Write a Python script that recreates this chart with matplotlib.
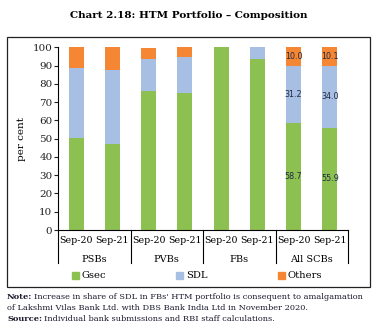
import matplotlib
matplotlib.use("Agg")
import matplotlib.pyplot as plt
import matplotlib.patches as mpatches
from matplotlib.lines import Line2D
import numpy as np

groups = ["PSBs", "PVBs", "FBs", "All SCBs"]
periods = ["Sep-20", "Sep-21"]
gsec = [50.5, 47.1, 76.1, 75.0, 100.0, 93.6, 58.7, 55.9]
sdl = [38.0, 40.6, 17.5, 19.9, 0.0, 6.4, 31.2, 34.0]
others = [11.5, 12.3, 6.2, 5.1, 0.0, 0.0, 10.0, 10.1]
labelled = [6, 7]

c_g = "#8CC152"
c_s = "#A7BFE2"
c_o = "#F58634"

plt.rcParams['font.family'] = ['DejaVu Serif']
fig = plt.figure(figsize=(3.78, 3.34), dpi=100)
W, H = 378, 334
ax = fig.add_axes([58 / W, 1 - 230 / H, 290 / W, (230 - 47.3) / H])

x = np.arange(len(gsec))
bw = 0.42
ax.bar(x, gsec, bw, color=c_g)
ax.bar(x, sdl, bw, bottom=gsec, color=c_s)
bot2 = [a + b for a, b in zip(gsec, sdl)]
ax.bar(x, others, bw, bottom=bot2, color=c_o)

for i in labelled:
    for val, b in ((gsec[i], 0), (sdl[i], gsec[i]), (others[i], bot2[i])):
        ax.text(x[i], b + val / 2, f"{val:.1f}", ha="center", va="center",
                fontsize=5.8, color="#1F2A44", family="DejaVu Sans")

ax.set_xlim(-0.5, len(gsec) - 0.5)
ax.set_ylim(0, 100)
ax.set_yticks(range(0, 101, 10))
ax.tick_params(axis='y', labelsize=7.5, length=3, width=0.8, pad=1, colors="#222222")
ax.set_xticks(x)
ax.set_xticklabels(periods * len(groups), fontsize=6.8)
ax.tick_params(axis='x', length=0, pad=4)
for s in ["top", "right"]:
    ax.spines[s].set_visible(False)
ax.spines["left"].set_linewidth(0.8)
ax.spines["bottom"].set_linewidth(0.8)
ax.set_ylabel("per cent", fontsize=7.5, labelpad=5)

# group separators and labels
trans = ax.get_xaxis_transform()
sep_bottom = -(263 - 230) / (230 - 47.3)
for k in range(len(groups) + 1):
    xs = k * 2 - 0.5
    ax.add_line(Line2D([xs, xs], [0, sep_bottom], transform=trans, color="black",
                       lw=0.8, clip_on=False))
for k, g in enumerate(groups):
    ax.text(k * 2 + 0.5, -(259 - 230) / (230 - 47.3), g, transform=trans,
            ha="center", va="center", fontsize=7)

# legend
handles = [mpatches.Patch(color=c_g, label="Gsec"),
           mpatches.Patch(color=c_s, label="SDL"),
           mpatches.Patch(color=c_o, label="Others")]
fig.legend(handles=handles, loc="center", bbox_to_anchor=(197 / W, 1 - 276 / H),
           ncol=3, frameon=False, fontsize=7.2, handlelength=0.7, handleheight=0.7,
           handletextpad=0.3, columnspacing=7.0, borderpad=0)

# frame
fig.add_artist(mpatches.Rectangle((7 / W, 1 - 286.5 / H), (370 - 7) / W, (286.5 - 37) / H,
                                  transform=fig.transFigure, fill=False,
                                  edgecolor="#222222", lw=0.9))

fig.text(0.5, 1 - 16 / H, "Chart 2.18: HTM Portfolio \u2013 Composition", ha="center",
         va="center", fontsize=7.5, fontweight="bold")

nfs = 5.95
ncol = "#1a1a2e"
fig.canvas.draw()
renderer = fig.canvas.get_renderer()


def bold_lead(y, lead, rest):
    t = fig.text(7 / W, 1 - y / H, lead, fontsize=nfs, fontweight="bold",
                 va="center", color=ncol)
    bb = t.get_window_extent(renderer=renderer)
    fig.text((bb.x1 + 2) / W, 1 - y / H, rest, fontsize=nfs, va="center", color=ncol)


bold_lead(297, "Note:",
          "Increase in share of SDL in FBs' HTM portfolio is consequent to amalgamation")
fig.text(7 / W, 1 - 308 / H,
         "of Lakshmi Vilas Bank Ltd. with DBS Bank India Ltd in November 2020.",
         fontsize=nfs, va="center", color=ncol)
bold_lead(319, "Source:", "Individual bank submissions and RBI staff calculations.")

fig.savefig("out.png", dpi=100)
